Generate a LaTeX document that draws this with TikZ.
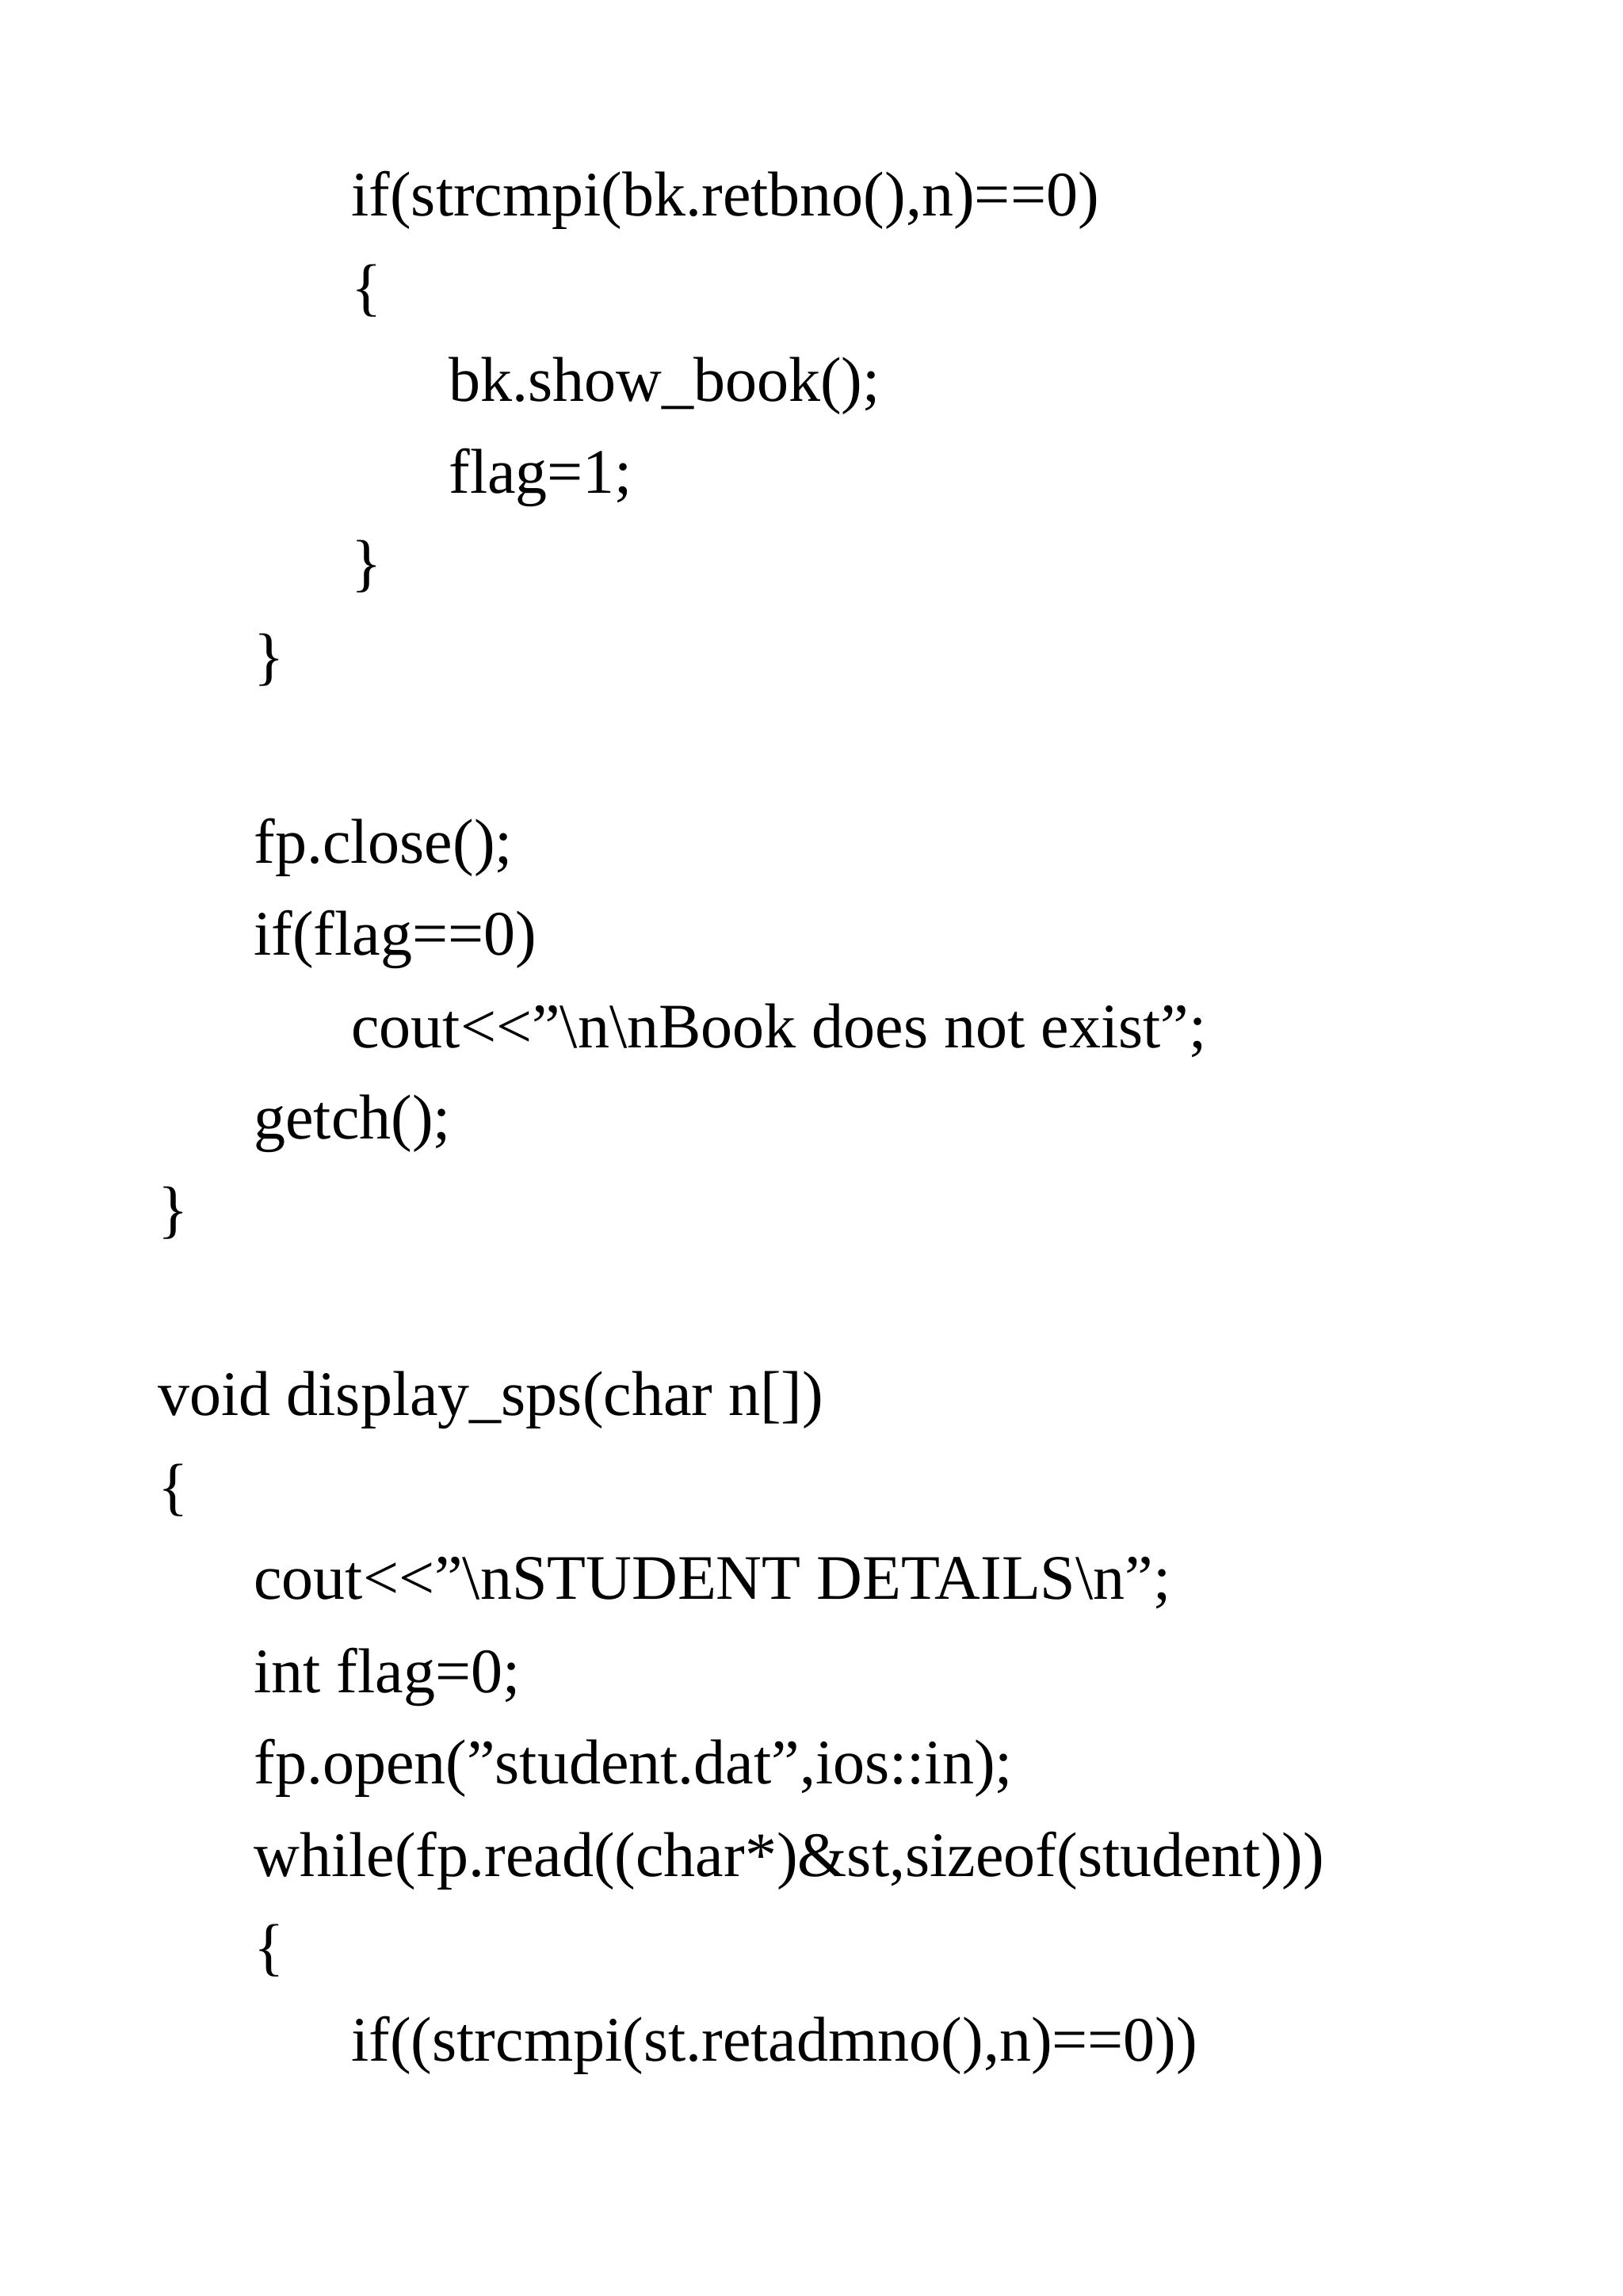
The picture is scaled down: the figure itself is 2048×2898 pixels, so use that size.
\documentclass[tikz,border=0pt]{standalone}
\usepackage{fontspec}
\setmainfont{Liberation Serif}
\begin{document}
\begin{tikzpicture}[x=0.5pt,y=-0.5pt,every node/.style={anchor=base west,inner sep=0pt,font=\fontsize{40}{48}\selectfont}]
\useasboundingbox (0,0) rectangle (2048,2898);
\def\bs{\textbackslash}
\node (l1) at (443,272) {if(strcmpi(bk.retbno(),n)==0)};
\node (l2) at (443,389) {\{};
\node (l3) at (566,506) {bk.show\_book();};
\node (l4) at (566,622) {flag=1;};
\node (l5) at (443,737) {\}};
\node (l6) at (320,855) {\}};
\node (l7) at (320,1089) {fp.close();};
\node (l8) at (320,1205) {if(flag==0)};
\node (l9) at (443,1322) {cout<{}<"\bs n\bs nBook does not exist";};
\node (l10) at (320,1437) {getch();};
\node (l11) at (199,1553) {\}};
\node (l12) at (199,1786) {void display\_sps(char n[])};
\node (l13) at (199,1903) {\{};
\node (l14) at (320,2018) {cout<{}<"\bs nSTUDENT DETAILS\bs n";};
\node (l15) at (320,2136) {int flag=0;};
\node (l16) at (320,2251) {fp.open("student.dat",ios::in);};
\node (l17) at (320,2368) {while(fp.read((char*)\&st,sizeof(student)))};
\node (l18) at (320,2484) {\{};
\node (l19) at (443,2601) {if((strcmpi(st.retadmno(),n)==0))};
\end{tikzpicture}
\end{document}
